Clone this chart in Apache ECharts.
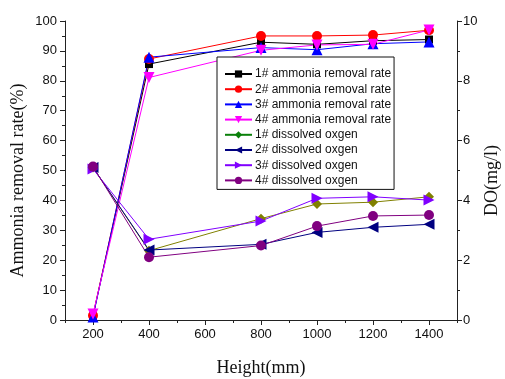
<!DOCTYPE html>
<html lang="en">
<head>
    <meta charset="UTF-8">
    <style>
    html,
    body {
        height: 100%;
        margin: 0;
        background: #fff;
    }
  </style>
</head>
<body>
<div id="chart" style="width:505px;height:379px;"></div>
<script src="https://cdn.jsdelivr.net/npm/echarts@6/dist/echarts.min.js"></script>
<script>
    // heights (mm)
    var heights = [200, 400, 800, 1000, 1200, 1400];
    var majorTicks = [200, 400, 600, 800, 1000, 1200, 1400];

    // ammonia removal rate (%)
    var nh1 = [1.5, 85.6, 92.9, 92.2, 93.4, 93.8];
    var nh2 = [1.5, 87.3, 95.0, 95.0, 95.3, 96.9];
    var nh3 = [1.0, 87.9, 91.1, 90.4, 92.4, 93.0];
    var nh4 = [2.0, 81.1, 90.2, 92.0, 92.2, 97.0];

    // dissolved oxygen (mg/l)
    var do1 = [5.10, 2.32, 3.39, 3.88, 3.94, 4.12];
    var do2 = [5.10, 2.34, 2.53, 2.93, 3.10, 3.20];
    var do3 = [5.05, 2.70, 3.31, 4.07, 4.12, 4.01];
    var do4 = [5.13, 2.10, 2.49, 3.14, 3.48, 3.51];

    var names = [
        '1# ammonia removal rate', '2# ammonia removal rate',
        '3# ammonia removal rate', '4# ammonia removal rate',
        '1# dissolved oxgen', '2# dissolved oxgen',
        '3# dissolved oxgen', '4# dissolved oxgen'
    ];

    function pairs(vals) {
        return heights.map((h, i) => [h, vals[i]]);
    }

    function line(name, vals, axis, color, symbol, rot, size) {
        return {
            name: name,
            type: 'line',
            yAxisIndex: axis,
            data: pairs(vals),
            symbol: symbol,
            symbolRotate: rot,
            symbolSize: size,
            showAllSymbol: true,
            lineStyle: { color: color, width: 1 },
            itemStyle: { color: color },
            emphasis: { disabled: true }
        };
    }

    var axisCol = '#222';
    var tickFont = { fontFamily: 'Liberation Sans', fontSize: 13, color: '#111' };
    var titleFont = { fontFamily: 'Liberation Serif', fontSize: 18, color: '#111' };

    var myChart = echarts.init(document.getElementById('chart'));
    myChart.setOption({
        animation: false,
        grid: { left: 65, right: 48, top: 21, bottom: 59, outerBoundsMode: 'none' },
        legend: {
            orient: 'vertical',
            left: 217,
            top: 57,
            padding: [11, 3, 3, 7],
            itemGap: 3.2,
            itemWidth: 27,
            itemHeight: 9,
            borderColor: '#111',
            borderWidth: 1,
            backgroundColor: '#fff',
            textStyle: { fontFamily: 'Liberation Sans', fontSize: 12, color: '#111', padding: [0, 0, 0, -2] },
            data: names.map((n, i) => i === 4 ? { name: n, itemStyle: { color: '#0a800a' }, lineStyle: { color: '#0a800a' } } : n)
        },
        xAxis: [
            {
                type: 'value',
                min: 100,
                max: 1500,
                name: 'Height(mm)',
                nameLocation: 'middle',
                nameGap: 39,
                nameTextStyle: titleFont,
                axisLine: { lineStyle: { color: axisCol } },
                axisTick: { customValues: majorTicks, length: 5, lineStyle: { color: axisCol } },
                axisLabel: Object.assign({ customValues: majorTicks, margin: 8, formatter: v => String(v) }, tickFont),
                splitLine: { show: false }
            },
            {
                type: 'value',
                min: 100,
                max: 1500,
                interval: 100,
                position: 'bottom',
                axisLine: { show: false },
                axisTick: { length: 3, lineStyle: { color: axisCol } },
                axisLabel: { show: false },
                splitLine: { show: false }
            }
        ],
        yAxis: [
            {
                type: 'value',
                min: 0,
                max: 100,
                interval: 10,
                name: 'Ammonia removal rate(%)',
                nameLocation: 'middle',
                nameRotate: 90,
                nameGap: 38,
                nameMoveOverlap: false,
                nameTextStyle: Object.assign({ padding: [0, 20, 0, 0] }, titleFont),
                axisLine: { show: true, lineStyle: { color: axisCol } },
                axisTick: { length: 5, lineStyle: { color: axisCol } },
                minorTick: { show: true, splitNumber: 2, length: 3, lineStyle: { color: axisCol } },
                axisLabel: Object.assign({ margin: 8 }, tickFont),
                splitLine: { show: false }
            },
            {
                type: 'value',
                min: 0,
                max: 10,
                interval: 2,
                position: 'right',
                name: 'DO(mg/l)',
                nameLocation: 'middle',
                nameRotate: 90,
                nameGap: 26,
                nameMoveOverlap: false,
                nameTextStyle: Object.assign({ padding: [0, 20, 0, 0] }, titleFont),
                axisLine: { show: true, lineStyle: { color: axisCol } },
                axisTick: { length: 5, lineStyle: { color: axisCol } },
                minorTick: { show: true, splitNumber: 2, length: 3, lineStyle: { color: axisCol } },
                axisLabel: Object.assign({ margin: 6 }, tickFont),
                splitLine: { show: false }
            }
        ],
        series: [
            line(names[0], nh1, 0, '#000000', 'rect', 0, 8),
            line(names[1], nh2, 0, '#ff0000', 'circle', 0, 10),
            line(names[2], nh3, 0, '#0000ff', 'triangle', 0, 11),
            line(names[3], nh4, 0, '#ff00ff', 'triangle', 180, 11),
            line(names[4], do1, 1, '#808000', 'diamond', 0, 10),
            line(names[5], do2, 1, '#000080', 'triangle', 90, 11),
            line(names[6], do3, 1, '#8000ff', 'triangle', -90, 11),
            line(names[7], do4, 1, '#800080', 'circle', 0, 10)
        ]
    });
</script>
</body>
</html>
